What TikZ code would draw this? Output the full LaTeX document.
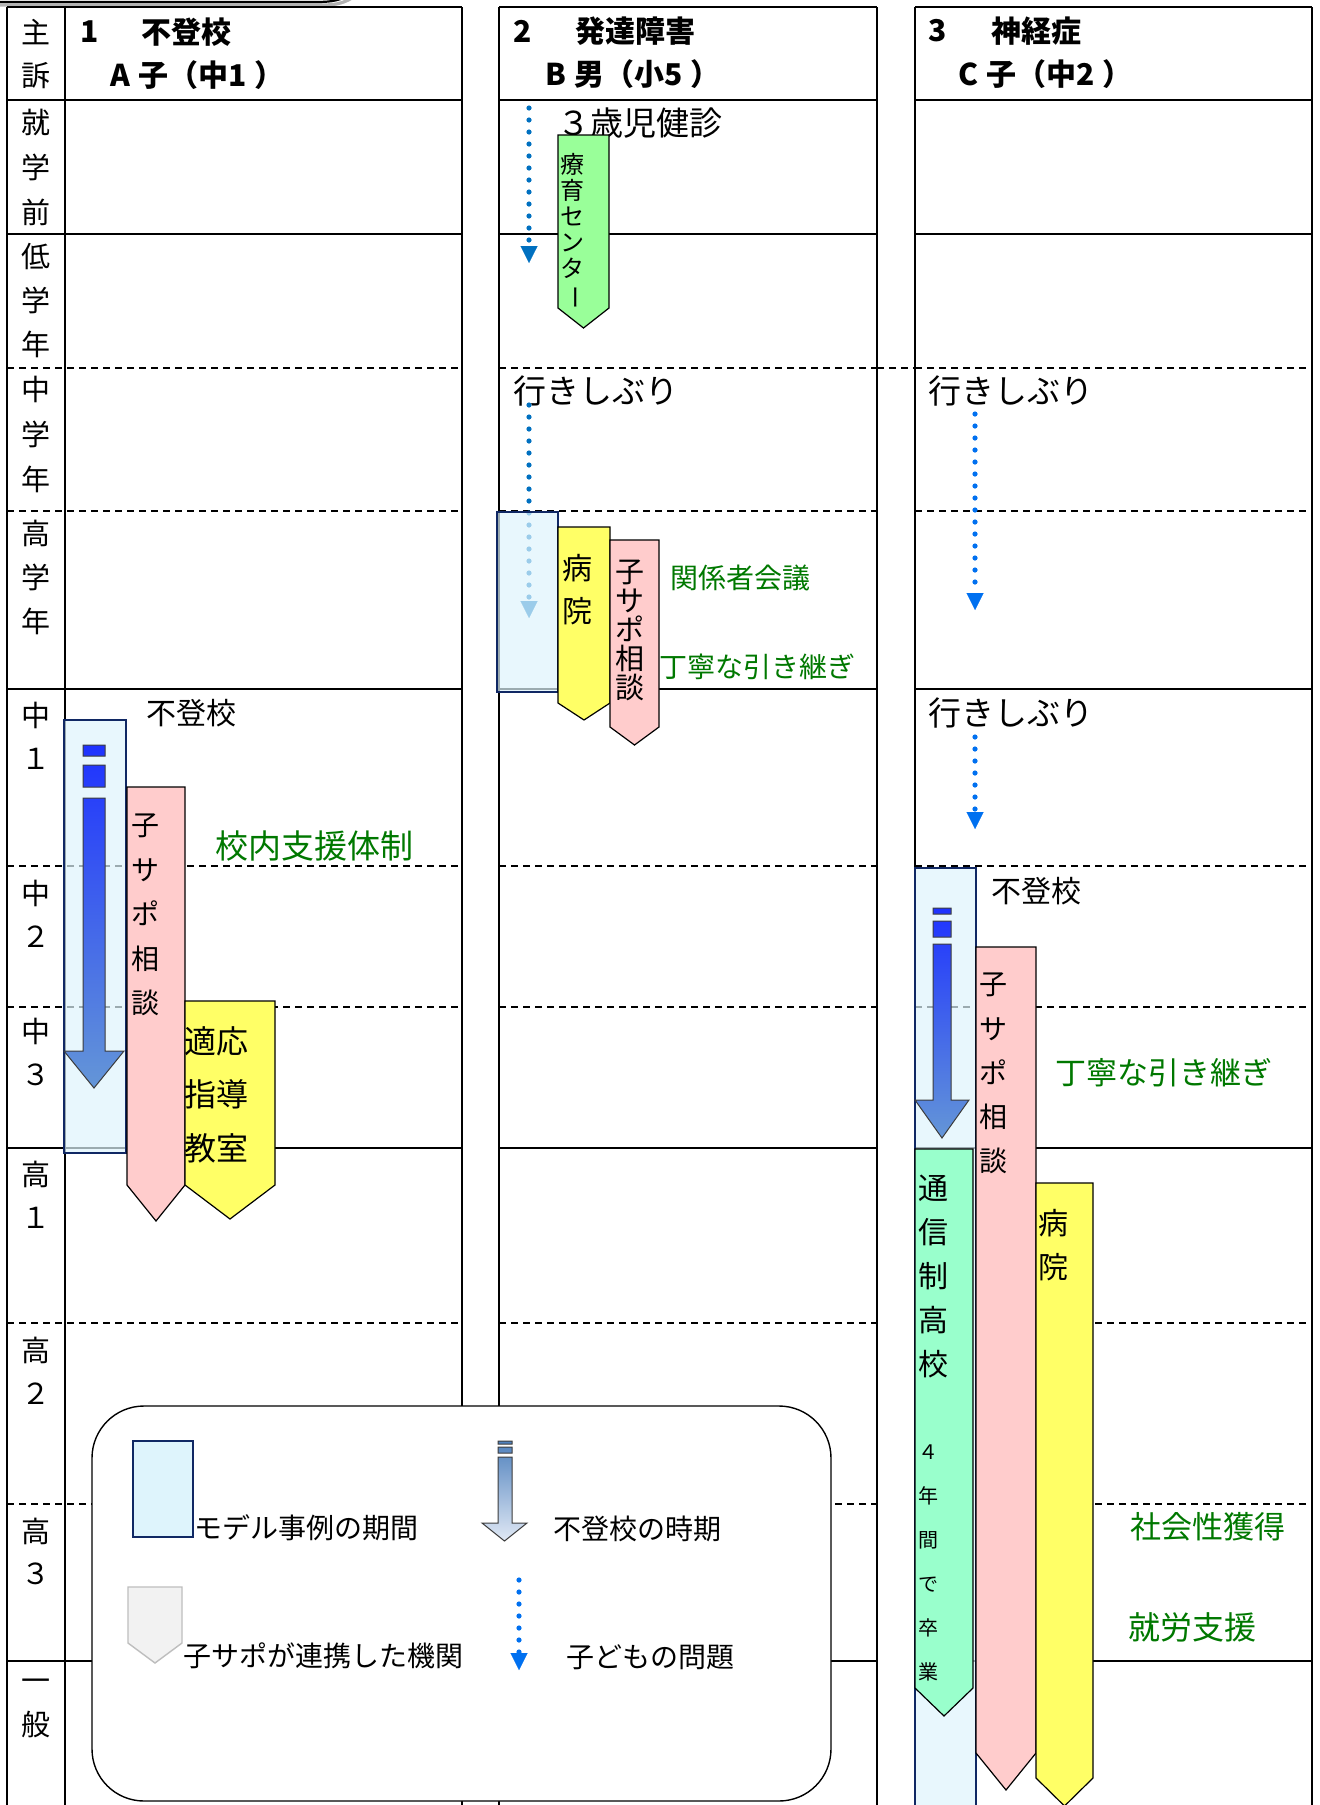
\documentclass[tikz,border=0pt]{standalone}
\usepackage{fontspec}
\setmainfont{Noto Sans CJK JP}
\newfontfamily\hvy{Noto Sans CJK JP Black}
\usetikzlibrary{arrows.meta}
\definecolor{mygreen}{RGB}{0,120,0}
\definecolor{navy}{RGB}{16,40,100}
\definecolor{modelfill}{RGB}{222,244,252}
\definecolor{pinkbox}{RGB}{255,204,204}
\definecolor{yellowbox}{RGB}{255,255,102}
\definecolor{greenA}{RGB}{153,255,153}
\definecolor{greenB}{RGB}{153,255,204}
\definecolor{dotblue}{RGB}{0,112,192}
\definecolor{dotblueB}{RGB}{0,112,240}
\definecolor{arrTop}{RGB}{30,50,255}
\definecolor{arrBot}{RGB}{100,150,215}
\definecolor{legTop}{RGB}{79,129,189}
\definecolor{legBot}{RGB}{225,233,245}
\definecolor{arrEdge}{RGB}{60,60,60}
\definecolor{tagGray}{RGB}{242,242,242}
\definecolor{tagGrayEdge}{RGB}{190,190,190}
\newcommand\mytag[6]{\draw[tagline,fill=#1] (#2,#4) -- (#3,#4) -- (#3,#5) -- ({(#2+#3)/2},#6) -- (#2,#5) -- cycle;}
\newcommand\hsp{\hspace{4pt}}
\begin{document}
\lineskiplimit=-20pt
\begin{tikzpicture}[x=0.5pt,y=-0.5pt,
 vline/.style={line width=1.2pt},
 hline/.style={line width=1pt},
 dline/.style={line width=0.6pt,dash pattern=on 3.5pt off 2.5pt},
 lab/.style={align=center,inner sep=0pt,font=\fontsize{14.5pt}{22pt}\selectfont},
 vstack/.style={align=center,inner sep=0pt},
 txt/.style={inner sep=0pt,anchor=west},
 big/.style={txt,font=\fontsize{16.5pt}{20pt}\selectfont},
 mid/.style={txt,font=\fontsize{15pt}{18pt}\selectfont},
 leg/.style={txt,font=\fontsize{14pt}{18pt}\selectfont},
 hdr/.style={txt,font=\hvy\fontsize{15pt}{18pt}\selectfont},
 grn/.style={txt,text=mygreen},
 modelbox/.style={draw=navy,line width=1.3pt,fill=modelfill,fill opacity=0.7},
 tagline/.style={draw=black,line width=0.6pt},
 arrowshape/.style={draw=arrEdge,line width=0.5pt},
 dotarrow/.style={line width=2.6pt,dash pattern=on 0pt off 6pt,line cap=round,
   -{Triangle[width=8.5pt 0 0,length=8.5pt 0 0,line width=0.01pt]}},
]
\useasboundingbox (0,0) rectangle (1320,1805);
% remnant of box above
\draw[line width=1.6pt,gray!60] (0,5) -- (322,5) to[out=0,in=-150] (352,-2);
\draw[line width=1.1pt] (0,2) -- (316,2) to[out=0,in=-145] (354,-8);
% table frames
\foreach \x in {7,462,499,877,915,1312} \draw[vline] (\x,7) -- (\x,1805);
\draw[hline] (65,7) -- (65,1805);
\foreach \y in {7,100,234,689,1148,1661} {
  \draw[hline] (7,\y) -- (462,\y);
  \draw[hline] (499,\y) -- (877,\y);
  \draw[hline] (915,\y) -- (1312,\y);
}
\foreach \y in {368,511,866,1007,1323,1504} {
  \draw[dline] (7,\y) -- (462,\y);
  \draw[dline] (499,\y) -- (877,\y);
  \draw[dline] (915,\y) -- (1312,\y);
}
\draw[dline] (877,368) -- (915,368);
% label column
\node[lab,font=\fontsize{14.5pt}{21.5pt}\selectfont] (l0) at (36,54.5) {主\\訴};
\node[lab,font=\fontsize{14.5pt}{22.5pt}\selectfont] (l1) at (36,167) {就\\学\\前};
\node[lab] (l2) at (36,300.5) {低\\学\\年};
\node[lab,font=\fontsize{14.5pt}{22.5pt}\selectfont] (l3) at (36,434) {中\\学\\年};
\node[lab] (l4) at (36,577) {高\\学\\年};
\node[lab,font=\fontsize{14.5pt}{21.5pt}\selectfont] (l5) at (36,736) {中\\１};
\node[lab,font=\fontsize{14.5pt}{21.5pt}\selectfont] (l6) at (36,913.5) {中\\２};
\node[lab,font=\fontsize{14.5pt}{21.5pt}\selectfont] (l7) at (36,1051.5) {中\\３};
\node[lab,font=\fontsize{14.5pt}{21.5pt}\selectfont] (l8) at (36,1194.5) {高\\１};
\node[lab,font=\fontsize{14.5pt}{21.5pt}\selectfont] (l9) at (36,1370.5) {高\\２};
\node[lab,font=\fontsize{14.5pt}{21pt}\selectfont] (l10) at (36,1551.5) {高\\３};
\node[lab] (l11) at (36,1708) {一\\般};
% headers
\node[hdr] (h1n) at (80,32) {1};
\node[hdr] (h1t) at (141,32) {不登校};
\node[hdr] (h1s) at (110,75) {A\hsp 子（中1\hsp ）};
\node[hdr] (h2n) at (513,31) {2};
\node[hdr] (h2t) at (575,31) {発達障害};
\node[hdr] (h2s) at (545,74) {B\hsp 男（小5\hsp ）};
\node[hdr] (h3n) at (928,31) {3};
\node[hdr] (h3t) at (991,31) {神経症};
\node[hdr] (h3s) at (958,74) {C\hsp 子（中2\hsp ）};
% ---- column 2
\node[big] (sansai) at (557,123) {３歳児健診};
\coordinate (d1s) at (529,108);
\coordinate (d1e) at (529,263);
\draw[dotarrow,dotblue] (d1s) -- (d1e);
\mytag{greenA}{558}{609}{135}{308}{328}
\node[vstack,font=\fontsize{12pt}{13pt}\selectfont] (ryoiku) at (572,231.5) {療\\育\\セ\\ン\\タ\\\rotatebox[origin=c]{-90}{ー}};
\node[big] (iki2) at (513,391) {行きしぶり};
\coordinate (d2s) at (529,405);
\coordinate (d2e) at (529,618);
\draw[dotarrow,dotblue] (d2s) -- (d2e);
\draw[modelbox] (497,512) rectangle (558,692);
\mytag{yellowbox}{558}{610}{527}{703}{720}
\node[vstack,font=\fontsize{15pt}{21.5pt}\selectfont] (byoin2) at (577,589.5) {病\\院};
\mytag{pinkbox}{610}{659}{540}{727}{745}
\node[vstack,font=\fontsize{14.5pt}{14.5pt}\selectfont] (kosapo2) at (630,630) {子\\サ\\ポ\\相\\談};
\node[grn,font=\fontsize{14pt}{18pt}\selectfont] (kankei) at (670,578) {関係者会議};
\node[grn,font=\fontsize{14pt}{18pt}\selectfont] (teinei2) at (659,667) {丁寧な引き継ぎ};
% ---- column 1
\node[mid] (futoko1) at (146,713) {不登校};
\draw[modelbox] (64,720) rectangle (126,1153);
\shade[arrowshape,top color=arrTop,bottom color=arrBot]
  (83,745) rectangle (105,756)
  (83,765) rectangle (105,787)
  (83,798) -- (105,798) -- (105,1051) -- (124,1051) -- (94,1088) -- (64,1051) -- (83,1051) -- cycle;
\mytag{pinkbox}{127}{185}{787}{1185}{1221}
\node[vstack,font=\fontsize{14pt}{22.25pt}\selectfont] (kosapo1) at (145,915) {子\\サ\\ポ\\相\\談};
\mytag{yellowbox}{185}{275}{1001}{1185}{1219}
\node[txt,align=left,font=\fontsize{16pt}{26.75pt}\selectfont] (tekio) at (184,1094.5) {適応\\指導\\教室};
\node[grn,font=\fontsize{16.5pt}{20pt}\selectfont] (kounai) at (215,846) {校内支援体制};
% ---- column 3
\node[big] (iki3a) at (928,391) {行きしぶり};
\coordinate (d3s) at (975,414);
\coordinate (d3e) at (975,610);
\draw[dotarrow,dotblueB] (d3s) -- (d3e);
\node[big] (iki3b) at (928,713) {行きしぶり};
\coordinate (d4s) at (975,737);
\coordinate (d4e) at (975,829);
\draw[dotarrow,dotblueB] (d4s) -- (d4e);
\node[mid] (futoko3) at (991,891) {不登校};
\draw[modelbox] (915,868) rectangle (976,1820);
\shade[arrowshape,top color=arrTop,bottom color=arrBot]
  (933,908) rectangle (951,914)
  (933,921) rectangle (951,937)
  (933,944) -- (951,944) -- (951,1100) -- (969,1100) -- (942,1138) -- (915,1100) -- (933,1100) -- cycle;
\mytag{pinkbox}{976}{1036}{947}{1753}{1790}
\node[vstack,font=\fontsize{14pt}{22.1pt}\selectfont] (kosapo3) at (993,1073.5) {子\\サ\\ポ\\相\\談};
\mytag{yellowbox}{1036}{1093}{1183}{1778}{1806}
\node[vstack,font=\fontsize{15pt}{22pt}\selectfont] (byoin3) at (1053,1245) {病\\院};
\mytag{greenB}{915}{973}{1149}{1688}{1716}
\node[vstack,font=\fontsize{15pt}{22pt}\selectfont] (tsushin) at (933,1276) {通\\信\\制\\高\\校};
\node[vstack,font=\fontsize{10pt}{22pt}\selectfont] (yonen) at (928,1563) {４\\年\\間\\で\\卒\\業};
\node[grn,font=\fontsize{15.5pt}{20pt}\selectfont] (teinei3) at (1055,1073) {丁寧な引き継ぎ};
\node[grn,font=\fontsize{15.5pt}{20pt}\selectfont] (shakai) at (1130,1527) {社会性獲得};
\node[grn,font=\fontsize{16pt}{20pt}\selectfont] (shuro) at (1128,1627) {就労支援};
% ---- legend
\draw[line width=0.7pt,fill=white,rounded corners=26pt] (92,1406) rectangle (831,1801);
\draw[modelbox,fill opacity=1] (133,1441) rectangle (193,1537);
\node[leg] (lg1) at (194,1528) {モデル事例の期間};
\shade[arrowshape,top color=legTop,bottom color=legBot]
  (498,1441) rectangle (512,1444)
  (498,1447) rectangle (512,1453)
  (498,1457) -- (512,1457) -- (512,1523) -- (527,1523) -- (504.5,1541) -- (482,1523) -- (498,1523) -- cycle;
\node[leg] (lg2) at (553,1529) {不登校の時期};
\draw[draw=tagGrayEdge,fill=tagGray,line width=0.7pt] (128,1587) -- (182,1587) -- (182,1643) -- (155,1663) -- (128,1643) -- cycle;
\node[leg] (lg3) at (183,1656) {子サポが連携した機関};
\coordinate (d5s) at (519,1580);
\coordinate (d5e) at (519,1670);
\draw[dotarrow,dotblueB] (d5s) -- (d5e);
\node[leg] (lg4) at (566,1657) {子どもの問題};
\end{tikzpicture}
\end{document}
